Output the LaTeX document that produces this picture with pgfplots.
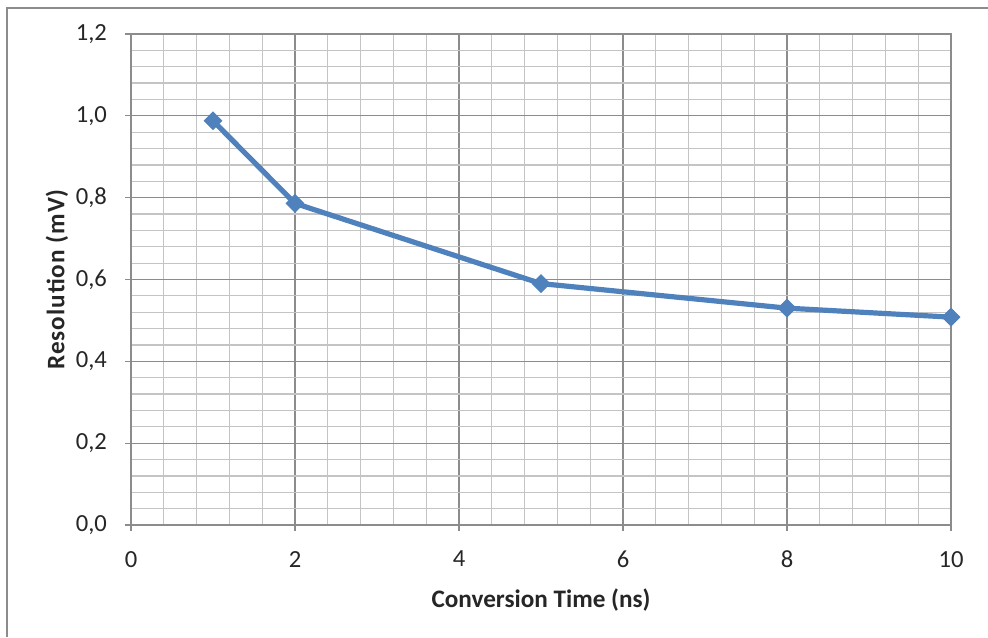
\documentclass[border=0pt]{standalone}
\usepackage{fontspec}
\setmainfont{Carlito}
\usepackage{pgfplots}
\pgfplotsset{compat=1.18}
\definecolor{exblue}{HTML}{4F81BD}
\definecolor{majgrid}{HTML}{8C8C8C}
\definecolor{mingrid}{HTML}{C4C4C4}
\begin{document}
\begin{tikzpicture}
\useasboundingbox (0,0) rectangle (494pt,318.5pt);
\draw[color=black!45, line width=0.6pt] (3.5pt,0) -- (3.5pt,314.5pt) -- (494pt,314.5pt);
\begin{axis}[
  at={(65.5pt,56pt)}, anchor=south west,
  scale only axis, width=410pt, height=245.5pt,
  xmin=0, xmax=10, ymin=0, ymax=1.2,
  xtick={0,2,4,6,8,10}, ytick={0,0.2,0.4,0.6,0.8,1.0,1.2},
  minor x tick num=4, minor y tick num=4,
  grid=both,
  major grid style={color=majgrid, line width=0.6pt},
  minor grid style={color=mingrid, line width=0.6pt},
  axis line style={color=majgrid, line width=0.6pt},
  tick align=outside, tick pos=left,
  major tick length=3pt, minor tick length=0pt,
  tick style={color=majgrid, line width=0.6pt},
  /pgf/number format/assume math mode=true,
  yticklabel style={/pgf/number format/fixed, /pgf/number format/fixed zerofill, /pgf/number format/precision=1, /pgf/number format/use comma, xshift=-5.5pt},
  ticklabel style={font=\fontsize{12.3}{14}\selectfont, color=black!85},
  xticklabel style={yshift=-6.5pt},
  xlabel={Conversion Time (ns)},
  ylabel={Resolution (mV)},
  xlabel style={font=\fontsize{12.6}{14}\selectfont\bfseries, color=black!85, yshift=-3.5pt},
  ylabel style={font=\fontsize{12.6}{14}\selectfont\bfseries\addfontfeature{LetterSpace=4}, color=black!85, yshift=-3pt},
]
\addplot[color=exblue, line width=2.6pt, mark=square*, mark size=3.1pt, mark options={rotate=45, fill=exblue, draw=exblue, line width=0.5pt}]
coordinates {(1,0.988) (2,0.786) (5,0.590) (8,0.530) (10,0.508)};
\end{axis}
\end{tikzpicture}
\end{document}
